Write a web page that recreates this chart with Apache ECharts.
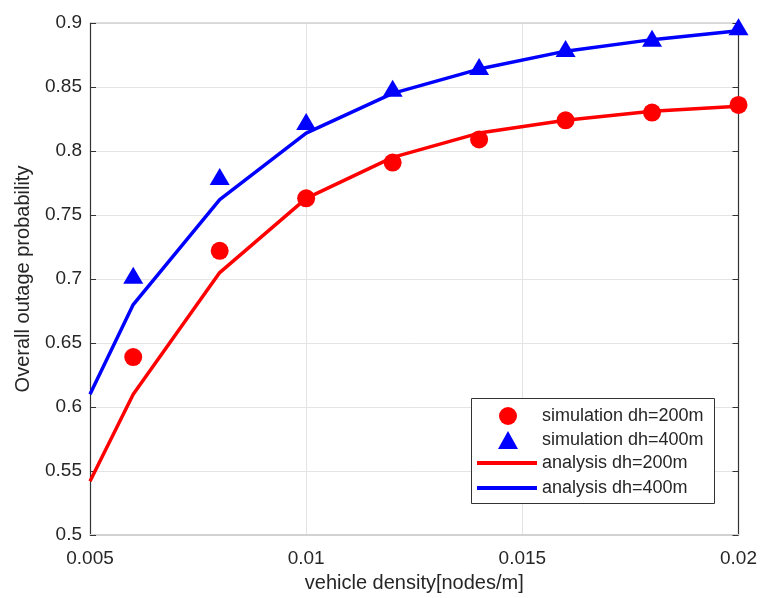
<!DOCTYPE html>
<html>
<head>
<meta charset="utf-8">
<script src="https://cdn.jsdelivr.net/npm/echarts@6/dist/echarts.min.js"></script>
<style>html,body{margin:0;padding:0;background:#fff}#c{width:760px;height:598px}</style>
</head>
<body>
<div id="c"></div>
<script>
var anaX = [0.005, 0.006, 0.008, 0.010, 0.012, 0.014, 0.016, 0.018, 0.020];
var ana200 = [0.542, 0.610, 0.705, 0.763, 0.795, 0.814, 0.824, 0.831, 0.835];
var ana400 = [0.610, 0.680, 0.762, 0.814, 0.845, 0.864, 0.878, 0.887, 0.894];
var simX = [0.006, 0.008, 0.010, 0.012, 0.014, 0.016, 0.018, 0.020];
var sim200 = [0.639, 0.722, 0.763, 0.791, 0.809, 0.824, 0.830, 0.836];
var sim400 = [0.703, 0.780, 0.823, 0.849, 0.866, 0.880, 0.888, 0.897];
var names = ['simulation dh=200m', 'simulation dh=400m', 'analysis dh=200m', 'analysis dh=400m'];

function pairs(xs, ys) { return xs.map(function (x, i) { return [x, ys[i]]; }); }
function fmt(v) { return String(+v.toFixed(4)); }

var FONT = 'Liberation Sans';
var TXT = '#262626';
var chart = echarts.init(document.getElementById('c'), null, { renderer: 'canvas' });
var xCommon = { type: 'value', min: 0.005, max: 0.02, interval: 0.005 };
var yCommon = { type: 'value', min: 0.5, max: 0.9, interval: 0.05 };
chart.setOption({
  animation: false,
  backgroundColor: '#ffffff',
  textStyle: { fontFamily: FONT },
  grid: { left: 90, right: 19, top: 23, bottom: 61 },
  xAxis: [
    Object.assign({}, xCommon, {
      position: 'bottom',
      name: 'vehicle density[nodes/m]', nameLocation: 'middle', nameGap: 38,
      nameTextStyle: { fontSize: 20, color: TXT, fontFamily: FONT },
      axisLine: { show: true, lineStyle: { color: '#d2d2d2', width: 2 } },
      axisTick: { show: false },
      axisLabel: { fontSize: 19, color: TXT, margin: 14, formatter: fmt, fontFamily: FONT },
      splitLine: { show: true, lineStyle: { color: '#e4e4e4', width: 1 } }
    }),
    Object.assign({}, xCommon, {
      position: 'top',
      axisLine: { show: true, lineStyle: { color: '#d2d2d2', width: 1.5 } },
      axisTick: { show: false }, axisLabel: { show: false }, splitLine: { show: false }
    })
  ],
  yAxis: [
    Object.assign({}, yCommon, {
      position: 'left',
      name: 'Overall outage probability', nameLocation: 'middle', nameGap: 57,
      nameTextStyle: { fontSize: 20, color: TXT, fontFamily: FONT },
      axisLine: { show: true, lineStyle: { color: '#333333', width: 1.2 } },
      axisTick: { show: true, inside: true, length: 6, lineStyle: { color: '#333333' } },
      axisLabel: { fontSize: 19, color: TXT, margin: 8, formatter: fmt, fontFamily: FONT },
      splitLine: { show: true, lineStyle: { color: '#e4e4e4', width: 1 } }
    }),
    Object.assign({}, yCommon, {
      position: 'right',
      axisLine: { show: true, lineStyle: { color: '#333333', width: 1.2 } },
      axisTick: { show: true, inside: true, length: 6, lineStyle: { color: '#333333' } },
      axisLabel: { show: false }, splitLine: { show: false }
    })
  ],
  legend: [
    {
      data: [names[0], names[1]], orient: 'vertical', left: 498, top: 407, padding: 0,
      itemWidth: 20, itemHeight: 18, itemGap: 6,
      textStyle: { fontSize: 18, color: TXT, fontFamily: FONT, padding: [0, 0, 0, 19] },
      selectedMode: false, z: 5
    },
    {
      data: [{ name: names[2], icon: 'rect' }, { name: names[3], icon: 'rect' }],
      orient: 'vertical', left: 477, top: 454, padding: 0,
      itemWidth: 60, itemHeight: 4, itemGap: 7,
      textStyle: { fontSize: 18, color: TXT, fontFamily: FONT },
      selectedMode: false, z: 5
    }
  ],
  graphic: [
    { type: 'rect', z: 4, shape: { x: 471.5, y: 398.5, width: 243, height: 105 },
      style: { fill: '#ffffff', stroke: '#333333', lineWidth: 1 } }
  ],
  series: [
    { name: names[0], type: 'scatter', data: pairs(simX, sim200), symbol: 'circle', symbolSize: 18,
      itemStyle: { color: '#ff0000', opacity: 1 }, z: 3, clip: false },
    { name: names[1], type: 'scatter', data: pairs(simX, sim400), symbol: 'triangle', symbolSize: [20, 17],
      itemStyle: { color: '#0000ff', opacity: 1 }, z: 3, clip: false },
    { name: names[2], type: 'line', data: pairs(anaX, ana200), symbol: 'none', showSymbol: false,
      lineStyle: { color: '#ff0000', width: 3.5 }, itemStyle: { color: '#ff0000' }, z: 2 },
    { name: names[3], type: 'line', data: pairs(anaX, ana400), symbol: 'none', showSymbol: false,
      lineStyle: { color: '#0000ff', width: 3.5 }, itemStyle: { color: '#0000ff' }, z: 2 }
  ]
});
</script>
</body>
</html>
